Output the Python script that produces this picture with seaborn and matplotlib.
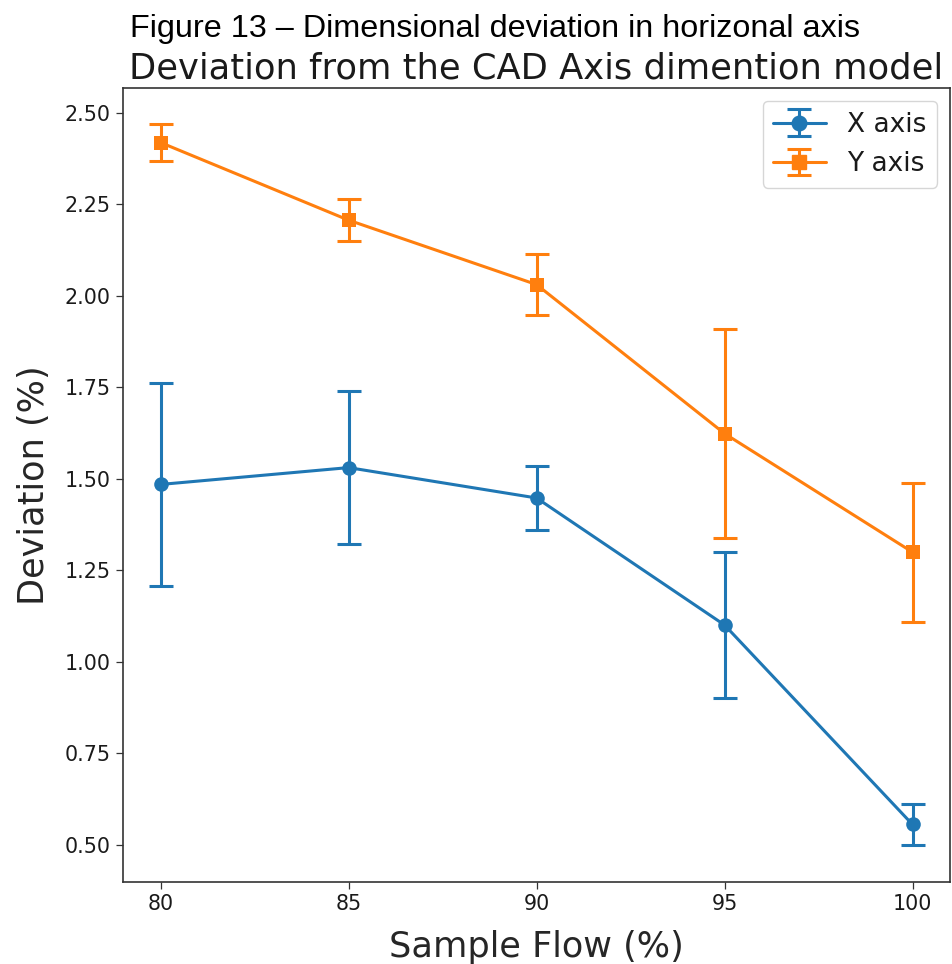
import numpy as np
import pandas as pd
import matplotlib.pyplot as plt
import seaborn as sns

# values
flow = [80, 85, 90, 95, 100]
x_dev = [1.485, 1.531, 1.448, 1.101, 0.556]
x_err = [0.277, 0.209, 0.087, 0.200, 0.056]
y_dev = [2.419, 2.207, 2.031, 1.624, 1.300]
y_err = [0.051, 0.057, 0.083, 0.285, 0.190]
series = ['X axis', 'Y axis']

sns.set_style('ticks')
plt.rcParams['font.family'] = ['DejaVu Sans']
plt.rcParams['axes.edgecolor'] = '0.2'
plt.rcParams['text.color'] = '0.1'
plt.rcParams['xtick.color'] = '0.2'
plt.rcParams['ytick.color'] = '0.2'
plt.rcParams['xtick.labelcolor'] = '0.1'
plt.rcParams['ytick.labelcolor'] = '0.1'

colors = sns.color_palette('tab10')[:2]
markers = {'X axis': 'o', 'Y axis': 's'}

df = pd.DataFrame({
    'Sample Flow': flow * 2,
    'Deviation': x_dev + y_dev,
    'err': x_err + y_err,
    'series': [series[0]] * len(flow) + [series[1]] * len(flow),
})

fig = plt.figure(figsize=(9.52, 9.64), dpi=100)
ax = fig.add_axes([0.1292, 0.0851, 0.8688, 0.8236])

sns.lineplot(data=df, x='Sample Flow', y='Deviation', hue='series', style='series',
             markers=markers, dashes=False, palette=colors, linewidth=2.2,
             markersize=10.5, markeredgewidth=0, legend=False, ax=ax)

handles = []
for name, c in zip(series, colors):
    sub = df[df['series'] == name]
    ax.errorbar(sub['Sample Flow'], sub['Deviation'], yerr=sub['err'], fmt='none',
                ecolor=c, elinewidth=2.2, capsize=8.3, capthick=2.2)
    # proxy handle (NaN point) so the legend shows line, marker and capped error bar
    h = ax.errorbar([np.nan], [np.nan], yerr=[np.nan], fmt='-' + markers[name], color=c,
                    linewidth=2.2, markersize=10.5, elinewidth=2.2, capsize=8.3,
                    capthick=2.2, label=name)
    handles.append(h)

ax.set_xlim(79, 101)
ax.set_ylim(0.399, 2.568)
ax.set_xticks(flow)
ax.set_yticks([0.5, 0.75, 1.0, 1.25, 1.5, 1.75, 2.0, 2.25, 2.5])
ax.yaxis.set_major_formatter(plt.FormatStrFormatter('%.2f'))
ax.tick_params(labelsize=14.9, length=5.2, width=0.9, pad=3.8)
for s in ax.spines.values():
    s.set_linewidth(1.2)

ax.set_xlabel('Sample Flow (%)', fontsize=25.3, labelpad=11)
ax.set_ylabel('Deviation (%)', fontsize=25.3, labelpad=10)
ax.set_title('Deviation from the CAD Axis dimention model', fontsize=25.4, pad=7)

ax.legend(handles=handles, labels=series, loc='upper right', fontsize=19,
          frameon=True, fancybox=True, framealpha=0.8, edgecolor='0.8')

fig.text(130 / 952, 1 - 37 / 964, 'Figure 13 \u2013 Dimensional deviation in horizonal axis',
         fontsize=23.3, family=['Liberation Sans', 'DejaVu Sans'], color='black',
         ha='left', va='baseline')

fig.savefig('out.png', dpi=100)
